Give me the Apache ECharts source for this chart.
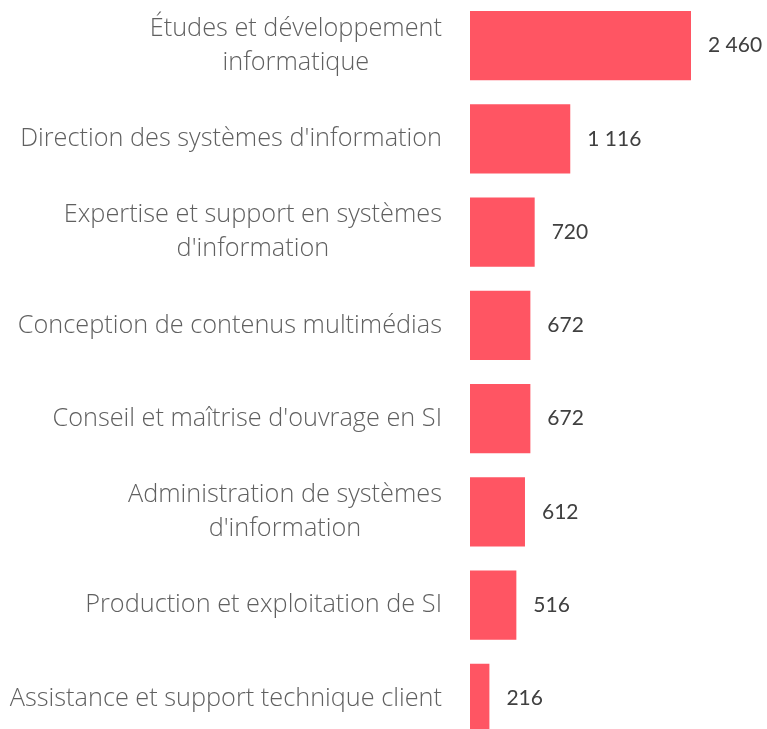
<!DOCTYPE html>
<html>
<head>
<meta charset="utf-8">
<script src="https://cdn.jsdelivr.net/npm/echarts@6/dist/echarts.min.js"></script>
<style>
  html, body { margin: 0; padding: 0; background: #fff; overflow: hidden; }
  /* le dernier rang déborde en bas, comme dans l'original */
  #chart { width: 767px; height: 746px; margin-top: -1px; }
</style>
</head>
<body>
<div id="chart"></div>
<script>
// métiers (libellés avec retour à la ligne comme dans l'original)
var categories = [
  'Études et développement\ninformatique',
  "Direction des systèmes d'information",
  "Expertise et support en systèmes\nd'information",
  'Conception de contenus multimédias',
  "Conseil et maîtrise d'ouvrage en SI",
  'Administration de systèmes\nd\'information',
  'Production et exploitation de SI',
  'Assistance et support technique client'
];
var values = [2460, 1116, 720, 672, 672, 612, 516, 216];

function formatNombre(n) {
  return String(n).replace(/\B(?=(\d{3})+(?!\d))/g, ' ');
}

var chart = echarts.init(document.getElementById('chart'));

chart.setOption({
  animation: false,
  grid: {
    left: 470,
    right: 76,
    top: 0,
    bottom: 0,
    containLabel: false
  },
  xAxis: {
    type: 'value',
    min: 0,
    max: 2460,
    show: false
  },
  yAxis: {
    type: 'category',
    data: categories,
    inverse: true,
    axisLine: { show: false },
    axisTick: { show: false },
    axisLabel: {
      margin: 28,
      align: 'right',
      // chaque ligne centrée dans le bloc, le bloc aligné à droite
      formatter: function (v) {
        return v.split('\n').map(function (l) { return '{t|' + l + '}'; }).join('\n');
      },
      rich: {
        t: {
          align: 'center',
          fontFamily: 'Open Sans',
          fontWeight: 300,
          fontSize: 25.3,
          lineHeight: 34,
          color: '#606060'
        }
      }
    }
  },
  series: [{
    type: 'bar',
    data: values,
    barCategoryGap: '26%',
    itemStyle: { color: '#FF5563' },
    label: {
      show: true,
      position: 'right',
      distance: 17,
      fontFamily: 'Lato',
      fontSize: 21,
      color: '#404040',
      formatter: function (p) { return formatNombre(p.value); }
    }
  }]
});
</script>
</body>
</html>
